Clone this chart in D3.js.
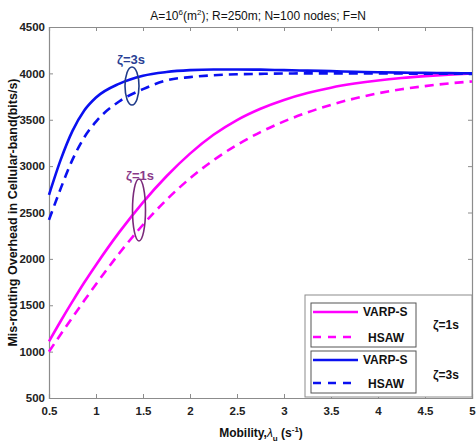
<!DOCTYPE html>
<html><head><meta charset="utf-8">
<script src="https://cdn.jsdelivr.net/npm/d3@7"></script>
<style>body{margin:0;background:#fff}svg{display:block}</style>
</head><body>
<svg id="c" width="476" height="444"></svg>
<script>
const xs = [0.5,0.625,0.75,0.875,1,1.25,1.5,1.75,2,2.25,2.5,2.75,3,3.25,3.5,3.75,4,4.25,4.5,4.75,5];
const varp1 = [1110,1330,1541,1745,1935,2291,2610,2891,3135,3338,3497,3619,3714,3788,3846,3890,3924,3950,3970,3986,3998];
const hsaw1 = [1000,1187,1370,1550,1727,2063,2368,2637,2868,3064,3229,3367,3482,3579,3661,3729,3785,3829,3863,3891,3913];
const varp3 = [2690,3070,3380,3600,3740,3890,3975,4015,4035,4042,4042,4040,4035,4030,4024,4018,4012,4008,4005,4003,4000];
const hsaw3 = [2420,2760,3070,3310,3480,3700,3830,3925,3960,3980,3990,3995,3998,4000,4000,4000,3999,3998,3997,3996,3995];
const xTicks = [0.5,1,1.5,2,2.5,3,3.5,4,4.5,5];
const yTicks = [500,1000,1500,2000,2500,3000,3500,4000,4500];

const L=49,R=472,T=27,B=398;
const svg=d3.select('#c');
const x=d3.scaleLinear().domain([0.5,5]).range([L,R]);
const y=d3.scaleLinear().domain([500,4500]).range([B,T]);
const font='"Liberation Sans", Arial, sans-serif';
const axisCol='#8c8c8c';

// axes
const gb=svg.append('g').attr('transform',`translate(0,${B})`).call(d3.axisBottom(x).tickValues(xTicks).tickSize(-4).tickPadding(9).tickFormat(d=>String(d)));
const gt=svg.append('g').attr('transform',`translate(0,${T})`).call(d3.axisTop(x).tickValues(xTicks).tickSize(-4).tickFormat(''));
const gl=svg.append('g').attr('transform',`translate(${L},0)`).call(d3.axisLeft(y).tickValues(yTicks).tickSize(-4).tickPadding(4).tickFormat(d=>String(d)));
const gr=svg.append('g').attr('transform',`translate(${R},0)`).call(d3.axisRight(y).tickValues(yTicks).tickSize(-4).tickFormat(''));
[gb,gt,gl,gr].forEach(g=>{
  g.selectAll('path.domain').attr('stroke',axisCol).attr('stroke-width',1.2);
  g.selectAll('line').attr('stroke',axisCol);
  g.selectAll('text').attr('font-family',font).attr('font-size',11.5).attr('font-weight','bold').attr('fill','#222');
});

// lines
const line=(arr)=>d3.line().x((d,i)=>x(xs[i])).y(d=>y(d)).curve(d3.curveMonotoneX)(arr);
const series=[
  {v:hsaw1,c:'#ff00ff',dash:'9,6'},
  {v:varp1,c:'#ff00ff',dash:null},
  {v:hsaw3,c:'#0a10f0',dash:'9,6'},
  {v:varp3,c:'#0a10f0',dash:null}
];
series.forEach(s=>{
  svg.append('path').attr('d',line(s.v)).attr('fill','none').attr('stroke',s.c)
    .attr('stroke-width',2.6).attr('stroke-dasharray',s.dash);
});

// annotations
svg.append('ellipse').attr('cx',132).attr('cy',86).attr('rx',7).attr('ry',19).attr('fill','none').attr('stroke','#1f3b8a').attr('stroke-width',1.6);
svg.append('text').attr('x',131).attr('y',64).attr('text-anchor','middle').attr('font-family',font).attr('font-size',13).attr('font-weight','bold').attr('fill','#2a3f95').text('ζ=3s');
svg.append('ellipse').attr('cx',139).attr('cy',210).attr('rx',6.5).attr('ry',31).attr('fill','none').attr('stroke','#7a2a7a').attr('stroke-width',1.6);
svg.append('text').attr('x',140).attr('y',180).attr('text-anchor','middle').attr('font-family',font).attr('font-size',13).attr('font-weight','bold').attr('fill','#8a3a8a').text('ζ=1s');

// legend
const lg=svg.append('g');
lg.append('rect').attr('x',305).attr('y',295).attr('width',R-305).attr('height',102).attr('fill','#fff').attr('stroke',axisCol).attr('stroke-width',1);
const boxes=[{y:303,h:44,c:'#ff00ff',z:'ζ=1s'},{y:351,h:42,c:'#0a10f0',z:'ζ=3s'}];
boxes.forEach((b,i)=>{
  lg.append('rect').attr('x',311).attr('y',b.y).attr('width',105).attr('height',b.h).attr('fill','#fff').attr('stroke','#555').attr('stroke-width',1);
  const y1=b.y+9, y2=b.y+b.h-10;
  lg.append('line').attr('x1',313).attr('x2',358).attr('y1',y1).attr('y2',y1).attr('stroke',b.c).attr('stroke-width',2.4);
  lg.append('line').attr('x1',313).attr('x2',358).attr('y1',y2).attr('y2',y2).attr('stroke',b.c).attr('stroke-width',2.4).attr('stroke-dasharray','8,7');
  lg.append('text').attr('x',363).attr('y',y1+4).attr('font-family',font).attr('font-size',12).attr('font-weight','bold').attr('fill','#111').text('VARP-S');
  lg.append('text').attr('x',368).attr('y',y2+5).attr('font-family',font).attr('font-size',12).attr('font-weight','bold').attr('fill','#111').text('HSAW');
  lg.append('text').attr('x',446).attr('y',b.y+b.h/2+(i?7:4)).attr('text-anchor','middle').attr('font-family',font).attr('font-size',12).attr('font-weight','bold').attr('fill','#111').text(b.z);
});

// titles
const t=svg.append('text').attr('x',258).attr('y',20).attr('text-anchor','middle').attr('font-family',font).attr('font-size',12).attr('fill','#111');
t.append('tspan').text('A=10');
t.append('tspan').attr('dy',-5).attr('font-size',8).text('6');
t.append('tspan').attr('dy',5).text('(m');
t.append('tspan').attr('dy',-5).attr('font-size',8).text('2');
t.append('tspan').attr('dy',5).text('); R=250m; N=100 nodes; F=N');

const xt=svg.append('text').attr('x',261).attr('y',437).attr('text-anchor','middle').attr('font-family',font).attr('font-size',12).attr('font-weight','bold').attr('fill','#111');
xt.append('tspan').text('Mobility,');
xt.append('tspan').attr('font-weight','normal').attr('font-style','italic').text('λ');
xt.append('tspan').attr('dy',4).attr('font-size',8).text('u');
xt.append('tspan').attr('dy',-4).text(' (s');
xt.append('tspan').attr('dy',-5).attr('font-size',8).text('-1');
xt.append('tspan').attr('dy',5).text(')');

svg.append('text').attr('transform',`translate(17,${(T+B)/2}) rotate(-90)`).attr('text-anchor','middle')
  .attr('font-family',font).attr('font-size',12.5).attr('font-weight','bold').attr('fill','#111')
  .text('Mis-routing Overhead in Cellular-band(bits/s)');
</script>
</body></html>
